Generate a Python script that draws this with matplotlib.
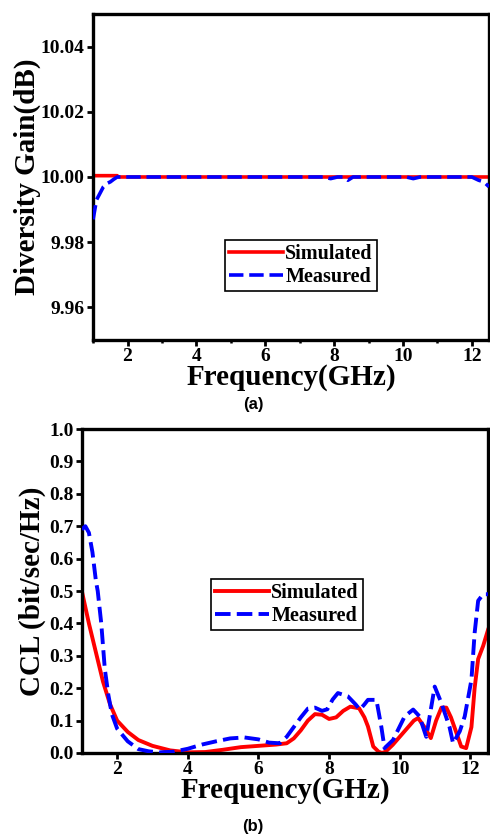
import matplotlib
matplotlib.use("Agg")
from matplotlib import pyplot as plt
from matplotlib.ticker import MultipleLocator, FormatStrFormatter

# 字体
plt.rcParams['font.family'] = ['Liberation Serif', 'DejaVu Serif']
plt.rcParams['font.weight'] = 'bold'
plt.rcParams['axes.labelweight'] = 'bold'

# ---- (a) diversity gain ----
dg_sim_freq = [1.0, 1.7, 1.72, 12.5]
dg_sim = [10.0004, 10.0004, 10.0, 10.0]
dg_meas_freq = [1.0, 1.05, 1.1, 1.2, 1.3, 1.4, 1.5, 1.6, 1.7, 1.8, 7.7, 7.9, 8.1,
                8.25, 8.4, 8.55, 10.1, 10.3, 10.5, 12.0, 12.2, 12.35, 12.5]
dg_meas = [9.987, 9.990, 9.993, 9.995, 9.997, 9.998, 9.9985, 9.9993, 10.0, 10.0, 10.0,
           9.9995, 10.0, 10.0, 9.999, 10.0, 10.0, 9.9995, 10.0, 10.0, 9.999, 9.9985, 9.997]

# ---- (b) CCL ----
ccl_sim_freq = [1.0, 1.2, 1.4, 1.6, 1.8, 2.0, 2.3, 2.6, 3.0, 3.5, 4.0, 4.5, 5.0, 5.5,
                6.0, 6.5, 6.8, 7.0, 7.2, 7.4, 7.6, 7.8, 8.0, 8.2, 8.4, 8.6, 8.85, 9.0,
                9.1, 9.25, 9.4, 9.5, 9.6, 9.8, 10.0, 10.2, 10.4, 10.52, 10.7, 10.88,
                11.03, 11.18, 11.32, 11.45, 11.58, 11.74, 11.88, 12.03, 12.12, 12.22,
                12.36, 12.5]
ccl_sim = [0.50, 0.40, 0.31, 0.22, 0.15, 0.10, 0.065, 0.04, 0.022, 0.008, 0.002, 0.003,
           0.01, 0.018, 0.022, 0.026, 0.03, 0.045, 0.07, 0.10, 0.12, 0.118, 0.105, 0.11,
           0.13, 0.143, 0.138, 0.11, 0.082, 0.02, 0.004, 0.0, 0.004, 0.025, 0.05, 0.075,
           0.10, 0.108, 0.08, 0.046, 0.10, 0.14, 0.14, 0.11, 0.07, 0.02, 0.015, 0.08,
           0.20, 0.29, 0.33, 0.38]
ccl_meas_freq = [1.0, 1.1, 1.2, 1.3, 1.4, 1.45, 1.55, 1.65, 1.75, 1.85, 2.0, 2.3, 2.6,
                 2.9, 3.2, 3.6, 4.0, 4.4, 4.8, 5.2, 5.6, 6.0, 6.3, 6.6, 6.8, 7.0, 7.2,
                 7.4, 7.6, 7.8, 7.95, 8.1, 8.25, 8.53, 8.75, 8.87, 9.0, 9.1, 9.34, 9.48,
                 9.57, 9.81, 10.14, 10.38, 10.56, 10.75, 10.99, 11.18, 11.41, 11.51,
                 11.7, 11.84, 12.03, 12.12, 12.22, 12.36, 12.5]
ccl_meas = [0.69, 0.70, 0.68, 0.62, 0.53, 0.50, 0.40, 0.26, 0.18, 0.12, 0.075, 0.036,
            0.012, 0.005, 0.002, 0.004, 0.013, 0.026, 0.036, 0.045, 0.048, 0.042, 0.032,
            0.03, 0.05, 0.08, 0.11, 0.137, 0.14, 0.13, 0.135, 0.165, 0.185, 0.175, 0.15,
            0.134, 0.15, 0.164, 0.164, 0.08, 0.015, 0.04, 0.113, 0.134, 0.113, 0.05,
            0.205, 0.154, 0.08, 0.03, 0.067, 0.113, 0.226, 0.37, 0.47, 0.49, 0.49]

RED = '#ff0000'
BLUE = '#0000ff'

fig = plt.figure(figsize=(4.9, 8.36), dpi=100)
ax1 = fig.add_axes([0.190, 0.5933, 0.808, 0.39])
ax2 = fig.add_axes([0.167, 0.0993, 0.829, 0.3875])


def style_axes(ax, minor_x):
    for sp in ax.spines.values():
        sp.set_linewidth(2.4)
    ax.tick_params(which='major', direction='out', length=4, width=2, labelsize=14,
                   pad=2)
    ax.tick_params(which='minor', direction='out', length=2.5, width=1.8)
    ax.tick_params(top=False, right=False)
    ax.xaxis.set_major_locator(MultipleLocator(2))
    if minor_x:
        ax.xaxis.set_minor_locator(MultipleLocator(1))
    ax.set_xlim(1, 12.5)
    ax.set_xlabel('Frequency(GHz)', fontsize=21, labelpad=-1)


# (a)
ax1.plot(dg_sim_freq, dg_sim, color=RED, lw=2.6, label='Simulated', zorder=2)
ax1.plot(dg_meas_freq, dg_meas, color=BLUE, lw=2.6, ls=(0, (4.0, 1.6)),
         label='Measured', zorder=3)
style_axes(ax1, True)
ax1.set_ylim(9.95, 10.05)
ax1.yaxis.set_major_locator(MultipleLocator(0.02))
ax1.yaxis.set_major_formatter(FormatStrFormatter('%.2f'))
ax1.set_ylabel('Diversity Gain(dB)', fontsize=21, labelpad=0)
leg1 = ax1.legend(loc='upper left', bbox_to_anchor=(0.333, 0.307), fontsize=14.5,
                  handlelength=2.7, handletextpad=0.1, labelspacing=0.15,
                  borderpad=0.2, borderaxespad=0, fancybox=False, framealpha=1)
leg1.get_frame().set_edgecolor('black')
leg1.get_frame().set_linewidth(1.2)

# (b)
ax2.plot(ccl_sim_freq, ccl_sim, color=RED, lw=2.8, label='Simulated', zorder=2)
ax2.plot(ccl_meas_freq, ccl_meas, color=BLUE, lw=2.8, ls=(0, (4.0, 1.6)),
         label='Measured', zorder=3)
style_axes(ax2, False)
ax2.set_ylim(0, 1.0)
ax2.yaxis.set_major_locator(MultipleLocator(0.1))
ax2.yaxis.set_major_formatter(FormatStrFormatter('%.1f'))
ax2.set_ylabel('CCL (bit/sec/Hz)', fontsize=21, labelpad=2)
leg2 = ax2.legend(loc='upper left', bbox_to_anchor=(0.318, 0.537), fontsize=14.5,
                  handlelength=2.7, handletextpad=0.1, labelspacing=0.15,
                  borderpad=0.2, borderaxespad=0, fancybox=False, framealpha=1)
leg2.get_frame().set_edgecolor('black')
leg2.get_frame().set_linewidth(1.2)

# 子图标号
fig.text(253 / 490, 1 - 405 / 836, '(a)', ha='center', va='center', fontsize=12,
         family=['Liberation Sans', 'DejaVu Sans'], weight='bold')
fig.text(253 / 490, 1 - 826 / 836, '(b)', ha='center', va='center', fontsize=12,
         family=['Liberation Sans', 'DejaVu Sans'], weight='bold')

plt.savefig('out.png', dpi=100)
